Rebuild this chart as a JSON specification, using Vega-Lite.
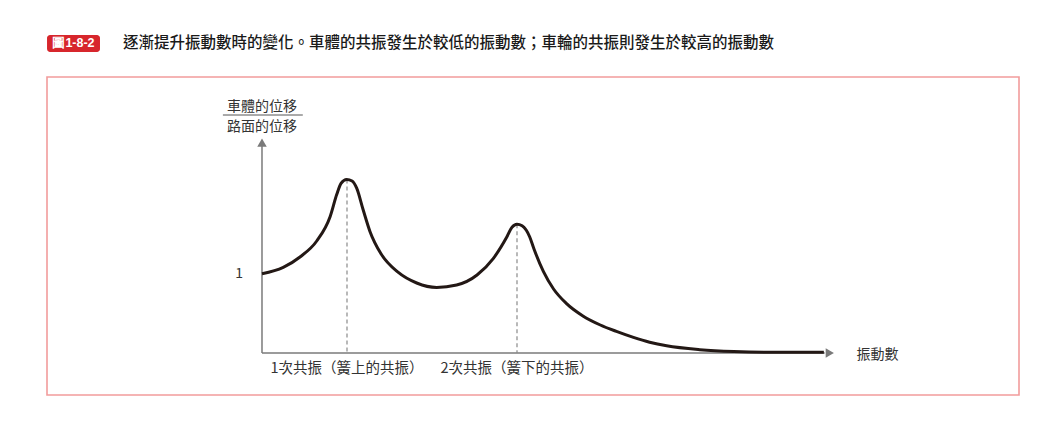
{
  "$schema": "https://vega.github.io/schema/vega-lite/v6.json",
  "width": 972,
  "height": 318,
  "autosize": {"type": "none"},
  "padding": {"left": 47, "top": 77, "right": 29, "bottom": 36},
  "background": "#ffffff",
  "config": {
    "view": {"stroke": "#f29c9c", "strokeWidth": 1.6},
    "text": {"font": "Noto Sans CJK TC", "color": "#333333"}
  },
  "datasets": {
    "curve": [
      {"f": 0.0, "a": 0.99},
      {"f": 0.25, "a": 1.07},
      {"f": 0.447, "a": 1.2},
      {"f": 0.644, "a": 1.4},
      {"f": 0.8, "a": 1.7},
      {"f": 0.879, "a": 1.98},
      {"f": 0.93, "a": 2.12},
      {"f": 0.996, "a": 2.17},
      {"f": 1.06, "a": 2.15},
      {"f": 1.114, "a": 2.06},
      {"f": 1.19, "a": 1.79},
      {"f": 1.27, "a": 1.52},
      {"f": 1.4, "a": 1.24},
      {"f": 1.6, "a": 1.01},
      {"f": 1.82, "a": 0.875},
      {"f": 2.055, "a": 0.82},
      {"f": 2.29, "a": 0.85},
      {"f": 2.53, "a": 0.975},
      {"f": 2.72, "a": 1.18},
      {"f": 2.88, "a": 1.45},
      {"f": 2.94, "a": 1.57},
      {"f": 3.0, "a": 1.61},
      {"f": 3.06, "a": 1.59},
      {"f": 3.15, "a": 1.45},
      {"f": 3.2, "a": 1.3},
      {"f": 3.31, "a": 1.02},
      {"f": 3.43, "a": 0.8},
      {"f": 3.58, "a": 0.62},
      {"f": 3.78, "a": 0.46},
      {"f": 3.98, "a": 0.35},
      {"f": 4.17, "a": 0.27},
      {"f": 4.37, "a": 0.195},
      {"f": 4.56, "a": 0.135},
      {"f": 4.76, "a": 0.09},
      {"f": 5.15, "a": 0.042},
      {"f": 5.55, "a": 0.018},
      {"f": 5.94, "a": 0.01},
      {"f": 6.61, "a": 0.01}
    ],
    "peaks": [
      {"label": "1次共振（簧上的共振）", "f": 1.0, "a": 2.17},
      {"label": "2次共振（簧下的共振）", "f": 3.0, "a": 1.61}
    ]
  },
  "layer": [
    {
      "data": {"values": [{"fig": "圖1-8-2"}]},
      "mark": {"type": "rect", "fill": "#d7262c", "cornerRadius": 3},
      "encoding": {
        "x": {"datum": -2.529, "type": "quantitative", "scale": {"domain": [-2.5294, 8.9059], "nice": false, "zero": false}, "axis": null},
        "x2": {"datum": -1.906},
        "y": {"datum": 3.975, "type": "quantitative", "scale": {"domain": [-0.525, 3.45], "nice": false, "zero": false}, "axis": null},
        "y2": {"datum": 3.7625}
      }
    },
    {
      "data": {"values": [{"fig": "圖1-8-2"}]},
      "mark": {"type": "text", "color": "#ffffff", "fontWeight": "bold", "fontSize": 12.5, "align": "center", "baseline": "middle", "font": "Liberation Sans"},
      "encoding": {
        "x": {"datum": -2.218, "type": "quantitative", "scale": {"domain": [-2.5294, 8.9059], "nice": false, "zero": false}, "axis": null},
        "y": {"datum": 3.869, "type": "quantitative", "scale": {"domain": [-0.525, 3.45], "nice": false, "zero": false}, "axis": null},
        "text": {"field": "fig"}
      }
    },
    {
      "data": {"values": [{"t": "逐漸提升振動數時的變化。車體的共振發生於較低的振動數；車輪的共振則發生於較高的振動數"}]},
      "mark": {"type": "text", "color": "#1a1a1a", "fontSize": 15.5, "fontWeight": 500, "align": "left", "baseline": "middle"},
      "encoding": {
        "x": {"datum": -1.635, "type": "quantitative", "scale": {"domain": [-2.5294, 8.9059], "nice": false, "zero": false}, "axis": null},
        "y": {"datum": 3.875, "type": "quantitative", "scale": {"domain": [-0.525, 3.45], "nice": false, "zero": false}, "axis": null},
        "text": {"field": "t"}
      }
    },
    {
      "data": {"values": [{"t": "車體的位移"}]},
      "mark": {"type": "text", "fontSize": 14, "align": "center", "baseline": "middle"},
      "encoding": {
        "x": {"datum": 0, "type": "quantitative", "scale": {"domain": [-2.5294, 8.9059], "nice": false, "zero": false}, "axis": null},
        "y": {"datum": 3.08, "type": "quantitative", "scale": {"domain": [-0.525, 3.45], "nice": false, "zero": false}, "axis": null},
        "text": {"field": "t"}
      }
    },
    {
      "data": {"values": [{"t": "路面的位移"}]},
      "mark": {"type": "text", "fontSize": 14, "align": "center", "baseline": "middle"},
      "encoding": {
        "x": {"datum": 0, "type": "quantitative", "scale": {"domain": [-2.5294, 8.9059], "nice": false, "zero": false}, "axis": null},
        "y": {"datum": 2.83, "type": "quantitative", "scale": {"domain": [-0.525, 3.45], "nice": false, "zero": false}, "axis": null},
        "text": {"field": "t"}
      }
    },
    {
      "data": {"values": [{"t": "fraction"}]},
      "mark": {"type": "rule", "color": "#555555", "strokeWidth": 1},
      "encoding": {
        "x": {"datum": -0.46, "type": "quantitative", "scale": {"domain": [-2.5294, 8.9059], "nice": false, "zero": false}, "axis": null},
        "x2": {"datum": 0.48},
        "y": {"datum": 2.975, "type": "quantitative", "scale": {"domain": [-0.525, 3.45], "nice": false, "zero": false}, "axis": null}
      }
    },
    {
      "data": {"values": [{"t": "y axis"}]},
      "mark": {"type": "rule", "color": "#7a7a7a", "strokeWidth": 1.5},
      "encoding": {
        "x": {"datum": 0, "type": "quantitative", "scale": {"domain": [-2.5294, 8.9059], "nice": false, "zero": false}, "axis": null},
        "y": {"datum": 0, "type": "quantitative", "scale": {"domain": [-0.525, 3.45], "nice": false, "zero": false}, "axis": null},
        "y2": {"datum": 2.6}
      }
    },
    {
      "data": {"values": [{"t": "x axis"}]},
      "mark": {"type": "rule", "color": "#7a7a7a", "strokeWidth": 1.5},
      "encoding": {
        "x": {"datum": 0, "type": "quantitative", "scale": {"domain": [-2.5294, 8.9059], "nice": false, "zero": false}, "axis": null},
        "x2": {"datum": 6.62},
        "y": {"datum": 0, "type": "quantitative", "scale": {"domain": [-0.525, 3.45], "nice": false, "zero": false}, "axis": null}
      }
    },
    {
      "data": {"values": [{"t": "y arrow"}]},
      "mark": {"type": "point", "shape": "triangle-up", "filled": true, "color": "#7a7a7a", "size": 90, "opacity": 1},
      "encoding": {
        "x": {"datum": 0, "type": "quantitative", "scale": {"domain": [-2.5294, 8.9059], "nice": false, "zero": false}, "axis": null},
        "y": {"datum": 2.63, "type": "quantitative", "scale": {"domain": [-0.525, 3.45], "nice": false, "zero": false}, "axis": null}
      }
    },
    {
      "data": {"values": [{"t": "x arrow"}]},
      "mark": {"type": "point", "shape": "triangle-right", "filled": true, "color": "#7a7a7a", "size": 90, "opacity": 1},
      "encoding": {
        "x": {"datum": 6.68, "type": "quantitative", "scale": {"domain": [-2.5294, 8.9059], "nice": false, "zero": false}, "axis": null},
        "y": {"datum": 0, "type": "quantitative", "scale": {"domain": [-0.525, 3.45], "nice": false, "zero": false}, "axis": null}
      }
    },
    {
      "data": {"name": "peaks"},
      "mark": {"type": "rule", "color": "#8a8a8a", "strokeWidth": 1.2, "strokeDash": [4, 3]},
      "encoding": {
        "x": {"field": "f", "type": "quantitative", "scale": {"domain": [-2.5294, 8.9059], "nice": false, "zero": false}, "axis": null},
        "y": {"field": "a", "type": "quantitative", "scale": {"domain": [-0.525, 3.45], "nice": false, "zero": false}, "axis": null},
        "y2": {"datum": 0}
      }
    },
    {
      "data": {"name": "curve"},
      "mark": {"type": "line", "color": "#231815", "strokeWidth": 3, "interpolate": "monotone"},
      "encoding": {
        "x": {"field": "f", "type": "quantitative", "scale": {"domain": [-2.5294, 8.9059], "nice": false, "zero": false}, "axis": null},
        "y": {"field": "a", "type": "quantitative", "scale": {"domain": [-0.525, 3.45], "nice": false, "zero": false}, "axis": null}
      }
    },
    {
      "data": {"name": "peaks"},
      "mark": {"type": "text", "fontSize": 14.5, "align": "center", "baseline": "middle"},
      "encoding": {
        "x": {"field": "f", "type": "quantitative", "scale": {"domain": [-2.5294, 8.9059], "nice": false, "zero": false}, "axis": null},
        "y": {"datum": -0.2, "type": "quantitative", "scale": {"domain": [-0.525, 3.45], "nice": false, "zero": false}, "axis": null},
        "text": {"field": "label"}
      }
    },
    {
      "data": {"values": [{"t": "1"}]},
      "mark": {"type": "text", "fontSize": 14, "align": "center", "baseline": "middle"},
      "encoding": {
        "x": {"datum": -0.27, "type": "quantitative", "scale": {"domain": [-2.5294, 8.9059], "nice": false, "zero": false}, "axis": null},
        "y": {"datum": 0.99, "type": "quantitative", "scale": {"domain": [-0.525, 3.45], "nice": false, "zero": false}, "axis": null},
        "text": {"field": "t"}
      }
    },
    {
      "data": {"values": [{"t": "振動數"}]},
      "mark": {"type": "text", "fontSize": 14, "align": "center", "baseline": "middle"},
      "encoding": {
        "x": {"datum": 7.24, "type": "quantitative", "scale": {"domain": [-2.5294, 8.9059], "nice": false, "zero": false}, "axis": null},
        "y": {"datum": -0.025, "type": "quantitative", "scale": {"domain": [-0.525, 3.45], "nice": false, "zero": false}, "axis": null},
        "text": {"field": "t"}
      }
    }
  ]
}
